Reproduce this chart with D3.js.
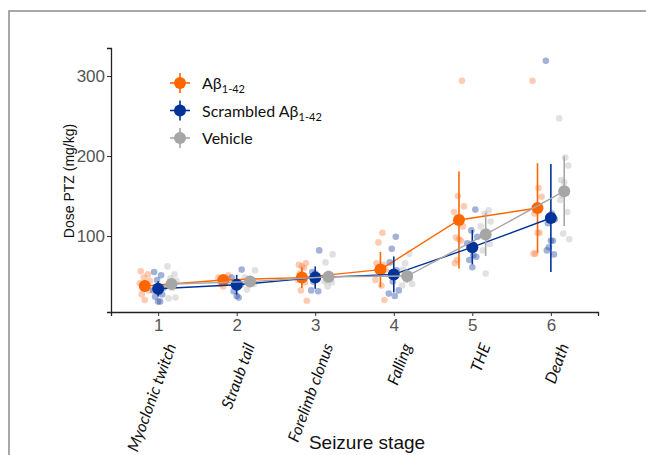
<!DOCTYPE html>
<html>
<head>
<meta charset="utf-8">
<script src="https://cdn.jsdelivr.net/npm/d3@7"></script>
<style>
  body { margin: 0; background: #fff; }
  svg { display: block; }
</style>
</head>
<body>
<svg width="646" height="455"></svg>
<script>
// seizure stages
const stages = [1, 2, 3, 4, 5, 6];
const stageLabels = ["Myoclonic twitch", "Straub tail", "Forelimb clonus", "Falling", "THE", "Death"];

// group means per stage (mg/kg)
const meanAb = [37.5, 45, 48, 58, 120, 135];
const meanScr = [34, 39, 48, 52, 86, 122.5];
const meanVeh = [40, 43, 49, 50, 102, 156];

// error bar half-lengths
const sdAb = [7.5, 4, 13, 22, 60.5, 56];
const sdScr = [9.5, 12.5, 14, 22.5, 21.5, 67.5];
const sdVeh = [6.5, 7, 6.5, 8, 27, 43.5];

// individual animals per stage
const ptsAb = [
  [56, 52, 48, 44, 41, 37, 32, 27, 20],
  [51, 48, 46, 43, 40, 37],
  [66, 64, 62, 60, 53, 45, 42, 32, 19],
  [104, 92, 66, 64, 61, 58, 45, 38, 20],
  [294, 150, 137, 130, 122, 112, 98, 96, 94, 70, 66],
  [294, 160, 149, 128, 104, 104, 78, 78]
];
const ptsScr = [
  [55, 51, 45, 35, 32, 30, 27, 24, 18, 18],
  [58, 48, 40, 39, 31, 25, 23],
  [82, 55, 53, 47, 43, 32, 31],
  [99, 84, 67, 57, 43, 32, 28, 25],
  [133, 107, 99, 91, 76, 74, 70, 61],
  [319, 128, 121, 116, 94, 94, 86, 82, 77]
];
const ptsVeh = [
  [62, 52, 47, 44, 37, 35, 23, 22],
  [57, 48, 44, 40, 33],
  [77, 67, 53, 46, 45, 43, 42, 37],
  [78, 66, 58, 47, 45, 40, 38],
  [132, 128, 118, 112, 106, 90, 82, 53],
  [247, 198, 188, 170, 167, 158, 151, 145, 130, 103, 96]
];

const yTicks = [100, 200, 300];

const groups = [
  {name: "Aβ", sub: "1-42", color: "#ff6600", pt: "#ff8c55", mean: meanAb, sd: sdAb, pts: ptsAb, dx: -0.17},
  {name: "Scrambled Aβ", sub: "1-42", color: "#003399", pt: "#3355aa", mean: meanScr, sd: sdScr, pts: ptsScr, dx: 0},
  {name: "Vehicle", sub: "", color: "#a6a6a6", pt: "#bdbdbd", mean: meanVeh, sd: sdVeh, pts: ptsVeh, dx: 0.17}
];

// chart dimensions
const margin = {top: 48, right: 48, bottom: 143, left: 111};
const width = 646 - margin.left - margin.right;
const height = 455 - margin.top - margin.bottom;

const x = d3.scaleLinear().domain([0.4, 6.6]).range([0, width]);
const y = d3.scaleLinear().domain([5, 335]).range([height, 0]);

const root = d3.select("svg");

// outer frame
root.append("path")
  .attr("d", "M9,455V11H646")
  .attr("fill", "none")
  .attr("stroke", "#8c8c8c")
  .attr("stroke-width", 1.5);

const svg = root.append("g")
  .attr("transform", "translate(" + margin.left + "," + margin.top + ")");

// axes
const xAxis = d3.axisBottom(x).tickValues(stages).tickSize(4).tickPadding(3).tickFormat(d3.format("d"));
const yAxis = d3.axisLeft(y).tickValues(yTicks).tickSize(4).tickPadding(2);

const bottomAxis = svg.append("g")
  .attr("transform", "translate(0," + height + ")")
  .call(xAxis);
const leftAxis = svg.append("g").call(yAxis);

[bottomAxis, leftAxis].forEach(a => {
  a.select(".domain").attr("stroke", "#222").attr("stroke-width", 1.3);
  a.selectAll(".tick line").attr("stroke", "#333");
  a.selectAll(".tick text")
    .attr("fill", "#555")
    .style("font-family", "Liberation Sans, Arial, sans-serif")
    .style("font-size", "17px");
});

// jitter pattern (px) for individual points
const jit = [-4, 3, -1, 5, -5, 1, 4, -3, 0, 2, -2];

groups.forEach(g => {
  const layer = svg.append("g");

  // individual points
  g.pts.forEach((vals, si) => {
    layer.selectAll(null)
      .data(vals)
      .enter()
      .append("circle")
      .attr("cx", (d, i) => x(stages[si] + g.dx) + jit[(i + si * 3) % jit.length])
      .attr("cy", d => y(d))
      .attr("r", 3.3)
      .attr("fill", g.pt)
      .attr("fill-opacity", 0.45);
  });
});

groups.forEach(g => {
  const layer = svg.append("g");

  // connecting line
  layer.append("path")
    .datum(stages)
    .attr("fill", "none")
    .attr("stroke", g.color)
    .attr("stroke-width", 1.4)
    .attr("d", d3.line()
      .x(s => x(s + g.dx))
      .y((s, i) => y(g.mean[i])));

  // error bars
  layer.selectAll("line.err")
    .data(stages)
    .enter()
    .append("line")
    .attr("x1", s => x(s + g.dx))
    .attr("x2", s => x(s + g.dx))
    .attr("y1", (s, i) => y(g.mean[i] - g.sd[i]))
    .attr("y2", (s, i) => y(g.mean[i] + g.sd[i]))
    .attr("stroke", g.color)
    .attr("stroke-width", 1.6);

  // means
  layer.selectAll("circle.mean")
    .data(stages)
    .enter()
    .append("circle")
    .attr("cx", s => x(s + g.dx))
    .attr("cy", (s, i) => y(g.mean[i]))
    .attr("r", 6)
    .attr("fill", g.color);
});

// category labels
svg.append("g")
  .selectAll("text")
  .data(stageLabels)
  .enter()
  .append("text")
  .attr("transform", (d, i) => "translate(" + (x(stages[i]) + 13) + "," + (height + 32) + ") rotate(-70)")
  .attr("text-anchor", "end")
  .attr("dy", "0.35em")
  .style("font-family", "Lato, Open Sans, sans-serif")
  .style("font-style", "italic")
  .style("font-size", "16px")
  .attr("fill", "#111")
  .text(d => d);

// axis titles
svg.append("text")
  .attr("x", 256)
  .attr("y", height + 137)
  .attr("text-anchor", "middle")
  .style("font-family", "Liberation Sans, Arial, sans-serif")
  .style("font-size", "19px")
  .attr("fill", "#111")
  .text("Seizure stage");

svg.append("text")
  .attr("transform", "rotate(-90)")
  .attr("x", -133)
  .attr("y", -37)
  .attr("text-anchor", "middle")
  .style("font-family", "Liberation Sans, Arial, sans-serif")
  .style("font-size", "14px")
  .attr("fill", "#111")
  .text("Dose PTZ (mg/kg)");

// legend
const legend = root.append("g")
  .attr("transform", "translate(180,83)");

groups.forEach((g, i) => {
  const item = legend.append("g").attr("transform", "translate(0," + (i * 27.5) + ")");
  item.append("line").attr("x1", -10).attr("x2", 10).attr("stroke", g.color).attr("stroke-width", 1.6);
  item.append("line").attr("y1", -10).attr("y2", 10).attr("stroke", g.color).attr("stroke-width", 1.6);
  item.append("circle").attr("r", 6).attr("fill", g.color);
  const t = item.append("text")
    .attr("x", 22)
    .attr("y", 6)
    .style("font-family", "Lato, Open Sans, sans-serif")
    .style("font-size", "16px")
    .attr("fill", "#111")
    .text(g.name);
  if (g.sub) {
    t.append("tspan")
      .attr("dy", 4)
      .style("font-size", "11px")
      .text(g.sub);
  }
});
</script>
</body>
</html>
